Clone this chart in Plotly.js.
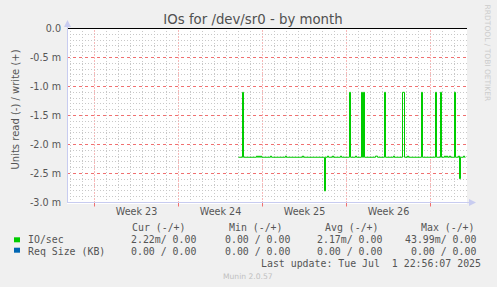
<!DOCTYPE html>
<html>
<head>
<meta charset="utf-8">
<script src="https://cdn.plot.ly/plotly-3.0.1.min.js"></script>
<style>
html,body{margin:0;padding:0;background:#f0f0f0;}
#chart{width:497px;height:287px;}
</style>
</head>
<body>
<div id="chart"></div>
<script>
// ---- data (IO/sec read values in milli-units, step samples) ----
var ioTimes = [
  '2025-06-13 00:00','2025-06-13 08:00','2025-06-13 10:00',
  '2025-06-14 12:00','2025-06-14 14:00','2025-06-14 16:00','2025-06-14 18:00','2025-06-14 20:00','2025-06-14 22:00',
  '2025-06-15 16:00','2025-06-15 18:00','2025-06-16 22:00','2025-06-17 00:00',
  '2025-06-18 08:00','2025-06-18 10:00',
  '2025-06-20 04:00','2025-06-20 06:00','2025-06-20 10:00','2025-06-20 12:00','2025-06-20 20:00','2025-06-20 22:00',
  '2025-06-21 12:00','2025-06-21 14:00',
  '2025-06-22 06:00','2025-06-22 08:00','2025-06-22 18:00','2025-06-22 20:00',
  '2025-06-23 06:00','2025-06-23 08:00','2025-06-23 10:00','2025-06-23 12:00',
  '2025-06-24 10:00','2025-06-24 14:00',
  '2025-06-25 04:00','2025-06-25 06:00','2025-06-25 22:00','2025-06-26 00:00',
  '2025-06-26 16:00','2025-06-26 20:00','2025-06-27 02:00','2025-06-27 04:00',
  '2025-06-28 06:00','2025-06-28 08:00',
  '2025-06-29 10:00','2025-06-29 12:00','2025-06-29 20:00','2025-06-29 22:00',
  '2025-06-30 04:00','2025-06-30 06:00','2025-06-30 08:00','2025-06-30 10:00','2025-06-30 14:00','2025-06-30 16:00',
  '2025-07-01 00:00','2025-07-01 02:00','2025-07-01 08:00','2025-07-01 10:00','2025-07-01 12:00',
  '2025-07-01 18:00','2025-07-01 20:00','2025-07-01 22:00'
];
var ioRead = [
  2.22,1.10,2.22,
  2.20,2.22,2.20,2.22,2.20,2.22,
  2.20,2.22,2.20,2.22,
  2.20,2.22,
  2.80,2.22,2.20,2.22,2.20,2.22,
  2.20,2.22,
  1.10,2.22,2.20,2.22,
  1.10,2.22,1.10,2.22,
  2.20,2.22,
  1.10,2.22,2.20,2.22,
  1.10,2.22,2.20,2.22,
  1.10,2.22,
  1.10,2.22,1.10,2.22,
  2.20,2.22,2.20,2.22,2.20,2.22,
  1.10,2.22,2.20,2.59,2.22,
  2.20,2.22,2.22
];
var weekStarts = ['2025-06-01','2025-06-08','2025-06-15','2025-06-22','2025-06-29'];
var weekMids = ['2025-06-04 12:00','2025-06-11 12:00','2025-06-18 12:00','2025-06-25 12:00'];
var weekLabels = ['Week 23','Week 24','Week 25','Week 26'];
var yTickVals = [0,-0.5,-1.0,-1.5,-2.0,-2.5,-3.0];
var yTickText = ['0.0','-0.5 m','-1.0 m','-1.5 m','-2.0 m','-2.5 m','-3.0 m'];

var seriesNames = ['IO/sec','Req Size (KB)'];
var seriesColors = ['#00cc00','#0066b3'];
var colHeaders = ['Cur (-/+)','Min (-/+)','Avg (-/+)','Max (-/+)'];
var ioStats = ['2.22m/ 0.00','0.00 / 0.00','2.17m/ 0.00','43.99m/ 0.00'];
var reqStats = ['0.00 / 0.00','0.00 / 0.00','0.00 / 0.00','0.00 / 0.00'];
var lastUpdate = 'Last update: Tue Jul\u00a0\u00a01 22:56:07 2025';
var chartTitle = 'IOs for /dev/sr0 - by month';
var yTitle = 'Units read (-) / write (+)';

// ---- layout helpers (pixel -> paper) ----
var L = 67, R = 467, T = 28, B = 204;
function px(x){ return (x - L) / (R - L); }
function py(y){ return (B - y) / (B - T); }
var xRange = ['2025-05-29 17:00','2025-07-02 01:00'];
// y range padded by half a pixel so 0.5 m rules fall on pixel centres (58 px per m)
var PXM = 58;
var yTop = 0.5 / PXM, yBot = yTop - (B - T) / PXM;

var SANS = 'DejaVu Sans';
var MONO = 'DejaVu Sans Mono';
var TXT = '#555555';
var DOTS = '1px,2px';
var GREY = '#c8c8c8';
var PINK = '#f07070';
var AXIS = '#c8ccf0';

// daily minor grid positions (skipping week boundaries, which get the red rule)
var minorDays = [];
for (var t = Date.UTC(2025,4,30); t <= Date.UTC(2025,6,1); t += 86400000) {
  var d = new Date(t);
  if (d.getUTCDay() !== 0) minorDays.push(d.toISOString().slice(0,10));
}
// 0.1 m minor grid positions (skipping the 0.5 m major lines)
var minorY = [];
for (var i = 1; i < 30; i++) { if (i % 5 !== 0) minorY.push(-i / 10); }

var traces = [{
  x: ioTimes,
  y: ioRead.map(function(v){ return -v; }),
  type: 'scatter', mode: 'lines',
  line: {color: seriesColors[0], width: 1, shape: 'hv'},
  hoverinfo: 'skip', showlegend: false
}];

var shapes = [];
// major (red) grid at week boundaries, with small red ticks under the axis
weekStarts.forEach(function(d){
  shapes.push({type:'line', xref:'x', yref:'y', x0:d, x1:d, y0:-3, y1:0,
    line:{color:PINK, width:1, dash:DOTS}, layer:'below'});
  shapes.push({type:'line', xref:'x', yref:'paper', x0:d, x1:d, y0:py(206.5), y1:py(203),
    line:{color:PINK, width:1}});
});
// zero rule
shapes.push({type:'line', xref:'paper', yref:'y', x0:0, x1:1, y0:0, y1:0, line:{color:'#000000', width:1}});
// axes lines + arrows
shapes.push({type:'line', xref:'paper', yref:'y', x0:0, x1:px(470), y0:-3, y1:-3, line:{color:AXIS, width:1}});
shapes.push({type:'line', xref:'paper', yref:'paper', x0:px(L+0.5), x1:px(L+0.5), y0:py(202.5), y1:py(25), line:{color:AXIS, width:1}});
shapes.push({type:'path', xref:'paper', yref:'paper',
  path:'M '+px(L+0.5)+','+py(20)+' L '+px(L-3)+','+py(27)+' L '+px(L+4)+','+py(27)+' Z',
  fillcolor:AXIS, line:{width:0}});
shapes.push({type:'path', xref:'paper', yref:'paper',
  path:'M '+px(476)+','+py(202.5)+' L '+px(469)+','+py(199)+' L '+px(469)+','+py(206)+' Z',
  fillcolor:AXIS, line:{width:0}});
// legend squares
[[237.3,242.3],[247.7,252.7]].forEach(function(r, i){
  shapes.push({type:'rect', xref:'paper', yref:'paper', x0:px(14), x1:px(20), y0:py(r[1]), y1:py(r[0]),
    fillcolor:seriesColors[i], line:{width:0}});
});

var ann = [];
function addText(text, x, y, opts){
  var a = {text:text, xref:'paper', yref:'paper', x:px(x), y:py(y), showarrow:false,
    xanchor:'left', yanchor:'middle', borderpad:0,
    font:{family:MONO, size:9.9, color:TXT}};
  for (var k in opts) a[k] = opts[k];
  ann.push(a);
}
// y axis title
addText(yTitle, 14.5, 110, {textangle:-90, xanchor:'center', font:{family:SANS, size:10, color:TXT}});
// rrdtool credit
addText('RRDTOOL / TOBI OETIKER', 487.7, 53.3, {textangle:90, xanchor:'center', font:{family:SANS, size:7.5, color:'#cccccc'}});
// legend
var headRight = [187.3, 284, 380, 476];
var valRight = [196.7, 290.7, 383.3, 476.7];
colHeaders.forEach(function(h, i){ addText(h, headRight[i], 227.5, {xanchor:'right'}); });
addText(seriesNames[0], 26.7, 239.7);
addText(seriesNames[1], 26.7, 251.7);
ioStats.forEach(function(s, i){ addText(s, valRight[i], 239.7, {xanchor:'right'}); });
reqStats.forEach(function(s, i){ addText(s, valRight[i], 251.7, {xanchor:'right'}); });
addText(lastUpdate, 482.3, 263.3, {xanchor:'right'});
addText('Munin 2.0.57', 248, 276, {xanchor:'center', font:{family:SANS, size:7.6, color:'#c0c0c0'}});

var layout = {
  width: 497, height: 287,
  margin: {l: L, r: 497 - R, t: T, b: 287 - B, pad: 0},
  paper_bgcolor: '#f0f0f0', plot_bgcolor: '#ffffff',
  showlegend: false,
  title: {text: chartTitle, xref:'container', yref:'container', x: 253/497, xanchor:'center',
    y: 1 - 19.3/287, yanchor:'middle', font:{family:SANS, size:13.3, color:'#505050'}},
  xaxis: {
    type:'date', range: xRange,
    tickmode:'array', tickvals: weekMids, ticktext: weekLabels,
    ticks:'', showgrid:false, zeroline:false, showline:false,
    tickfont:{family:SANS, size:9.6, color:TXT},
    minor:{tickmode:'array', tickvals: minorDays, showgrid:true,
      gridcolor:GREY, griddash:DOTS, gridwidth:1, ticks:''},
    fixedrange:true
  },
  yaxis: {
    range:[yBot, yTop], tickmode:'array', tickvals: yTickVals, ticktext: yTickText,
    ticks:'', showgrid:true, gridcolor:PINK, griddash:'dot', gridwidth:1,
    zeroline:false, showline:false, ticklabelstandoff: 5,
    tickfont:{family:SANS, size:9.6, color:TXT},
    minor:{tickmode:'array', tickvals: minorY, showgrid:true, gridcolor:GREY, griddash:DOTS, gridwidth:1, ticks:''},
    fixedrange:true
  },
  shapes: shapes,
  annotations: ann
};

Plotly.newPlot('chart', traces, layout, {staticPlot:true, displayModeBar:false});
</script>
</body>
</html>
